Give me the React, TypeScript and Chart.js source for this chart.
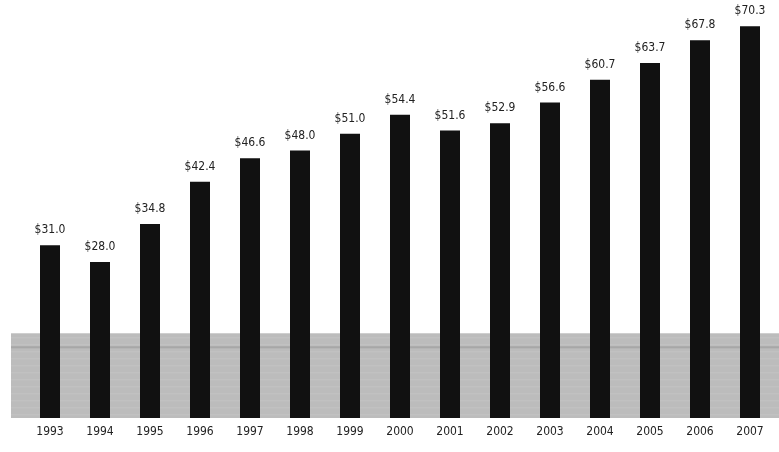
import React, { useEffect, useRef } from "react";
import { Chart, registerables } from "chart.js";

Chart.register(...registerables);

const years = ["1993","1994","1995","1996","1997","1998","1999","2000","2001","2002","2003","2004","2005","2006","2007"];
const values = [31.0, 28.0, 34.8, 42.4, 46.6, 48.0, 51.0, 54.4, 51.6, 52.9, 56.6, 60.7, 63.7, 67.8, 70.3];
const bandTopValue = 15.2;

const FONT = "'DejaVu Sans', sans-serif";

function setFont(ctx: any, size: number) {
  ctx.font = size + "px " + FONT;
  try { ctx.fontStretch = "condensed"; } catch (e) {}
}

const bandPlugin = {
  id: "band",
  beforeDatasetsDraw(chart: any) {
    const { ctx, scales } = chart;
    const y = scales.y;
    const top = y.getPixelForValue(bandTopValue);
    const bottom = y.getPixelForValue(0);
    const left = 11;
    const right = chart.width;
    ctx.save();
    ctx.fillStyle = "#bcbcbc";
    ctx.fillRect(left, top, right - left, bottom - top);
    ctx.fillStyle = "rgba(120,120,120,0.3)";
    ctx.fillRect(left, top + 13, right - left, 2);
    ctx.fillStyle = "rgba(255,255,255,0.12)";
    for (let yy = top + 4; yy < bottom; yy += 7) {
      ctx.fillRect(left, yy, right - left, 1);
    }
    ctx.restore();
  },
};

const labelPlugin = {
  id: "valueLabels",
  afterDatasetsDraw(chart: any) {
    const { ctx, scales, chartArea } = chart;
    const meta = chart.getDatasetMeta(0);
    ctx.save();
    setFont(ctx, 12);
    ctx.fillStyle = "#222";
    ctx.textAlign = "center";
    ctx.textBaseline = "middle";
    meta.data.forEach((bar: any, i: number) => {
      ctx.fillText("$" + values[i].toFixed(1), bar.x, bar.y - 15);
    });
    setFont(ctx, 12);
    years.forEach((yr, i) => {
      ctx.fillText(yr, scales.x.getPixelForValue(i), chartArea.bottom + 14);
    });
    ctx.restore();
  },
};

export default function App() {
  const ref = useRef<HTMLCanvasElement>(null);
  useEffect(() => {
    if (!ref.current) return;
    const chart = new Chart(ref.current, {
      type: "bar",
      data: {
        labels: years,
        datasets: [
          {
            data: values,
            backgroundColor: "#111111",
            borderWidth: 0,
            categoryPercentage: 1,
            barPercentage: 0.4,
          },
        ],
      },
      options: {
        animation: false,
        responsive: true,
        maintainAspectRatio: false,
        layout: { padding: { left: 25, right: 4, top: 0, bottom: 34 } },
        plugins: { legend: { display: false }, tooltip: { enabled: false } },
        scales: {
          x: {
            grid: { display: false, drawTicks: false },
            border: { display: false },
            ticks: { display: false },
          },
          y: { display: false, min: 0, max: 75 },
        },
      },
      plugins: [bandPlugin, labelPlugin],
    });
    return () => chart.destroy();
  }, []);
  return (
    <div style={{ position: "absolute", left: 0, top: 0, width: 779, height: 452, background: "#fff" }}>
      <canvas ref={ref} />
    </div>
  );
}
